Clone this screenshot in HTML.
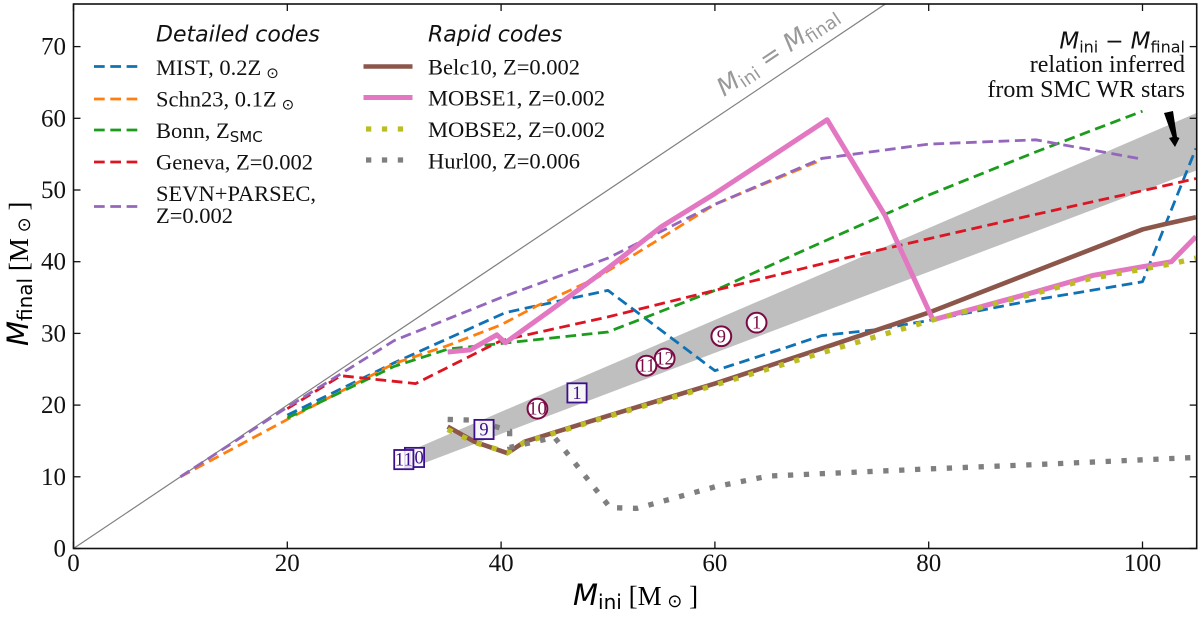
<!DOCTYPE html>
<html lang="en">
<head>
<meta charset="utf-8">
<title>Initial-final mass relation</title>
<style>
html,body{margin:0;padding:0;background:#fff;}
svg{display:block;font-family:"Liberation Serif",serif;}
.math{font-family:"DejaVu Sans",sans-serif;}
.tick{font-size:25px;fill:#111;}
.leg{font-size:22.5px;fill:#111;}
</style>
</head>
<body>
<svg id="chart" xmlns="http://www.w3.org/2000/svg" width="1200" height="617" viewBox="0 0 1200 617">
<defs><clipPath id="plot-clip"><rect x="73.5" y="4" width="1123.2" height="544.5"/></clipPath></defs>
<rect x="0" y="0" width="1200" height="617" fill="#fff"/>
<g id="marks" clip-path="url(#plot-clip)"></g>
<g id="points"></g>
<g id="axes"></g>

<text class="math" transform="translate(724,97) rotate(-33.9)" font-size="25" fill="#999"><tspan font-style="italic">M</tspan><tspan font-size="18" dy="4">ini</tspan><tspan dy="-4"> = </tspan><tspan font-style="italic">M</tspan><tspan font-size="18" dy="4">final</tspan></text>

<text x="573" y="605" font-size="27"><tspan class="math" font-style="italic" font-size="29">M</tspan><tspan class="math" font-size="20" dy="4">ini</tspan><tspan dy="-4"> [M</tspan><tspan class="math" font-size="18" dy="2"> ⊙</tspan><tspan dy="-2"> ]</tspan></text>
<text transform="translate(28,346) rotate(-90)" font-size="27"><tspan class="math" font-style="italic" font-size="29">M</tspan><tspan class="math" font-size="20" dy="4">final</tspan><tspan dy="-4"> [M</tspan><tspan class="math" font-size="18" dy="2"> ⊙</tspan><tspan dy="-2"> ]</tspan></text>

<g>
<text class="math" x="156" y="41.5" font-size="22" font-style="italic" fill="#111">Detailed codes</text>
<line x1="94" x2="137.3" y1="66.5" y2="66.5" stroke="#0f72b5" stroke-width="2.8" stroke-dasharray="10.7 5.6"/>
<text class="leg" x="156" y="75">MIST, 0.2Z<tspan class="math" font-size="15" dx="5" dy="3">⊙</tspan></text>
<line x1="94" x2="137.3" y1="99" y2="99" stroke="#ff7f0e" stroke-width="2.8" stroke-dasharray="10.7 5.6"/>
<text class="leg" x="156" y="106.5">Schn23, 0.1Z<tspan class="math" font-size="15" dx="5" dy="3">⊙</tspan></text>
<line x1="94" x2="137.3" y1="130" y2="130" stroke="#1c9c1c" stroke-width="2.8" stroke-dasharray="10.7 5.6"/>
<text class="leg" x="156" y="138">Bonn, Z<tspan class="math" font-size="15" dy="4">SMC</tspan></text>
<line x1="94" x2="137.3" y1="162" y2="162" stroke="#dd1522" stroke-width="2.8" stroke-dasharray="10.7 5.6"/>
<text class="leg" x="156" y="169.5">Geneva, Z=0.002</text>
<line x1="94" x2="137.3" y1="206.5" y2="206.5" stroke="#9467bd" stroke-width="2.8" stroke-dasharray="10.7 5.6"/>
<text class="leg" x="156" y="201">SEVN+PARSEC,</text>
<text class="leg" x="156" y="223">Z=0.002</text>
</g>

<g>
<text class="math" x="428" y="41.5" font-size="22" font-style="italic" fill="#111">Rapid codes</text>
<line x1="363.5" x2="412.5" y1="66.5" y2="66.5" stroke="#8c564b" stroke-width="4.6"/>
<text class="leg" x="428" y="74.5">Belc10, Z=0.002</text>
<line x1="363.5" x2="412.5" y1="97.5" y2="97.5" stroke="#e377c2" stroke-width="5"/>
<text class="leg" x="428" y="105.5">MOBSE1, Z=0.002</text>
<line x1="366" x2="404" y1="129" y2="129" stroke="#bcbd22" stroke-width="5.3" stroke-dasharray="5.3 10.6"/>
<text class="leg" x="428" y="137">MOBSE2, Z=0.002</text>
<line x1="366" x2="404" y1="160" y2="160" stroke="#7f7f7f" stroke-width="5.3" stroke-dasharray="5.3 10.6"/>
<text class="leg" x="428" y="168.5">Hurl00, Z=0.006</text>
</g>

<g text-anchor="end" fill="#111">
<text x="1185" y="48.5" font-size="22" class="math"><tspan font-style="italic" font-size="23">M</tspan><tspan font-size="16" dy="4">ini</tspan><tspan dy="-4"> − </tspan><tspan font-style="italic" font-size="23">M</tspan><tspan font-size="16" dy="4">final</tspan></text>
<text x="1185" y="72" font-size="24">relation inferred</text>
<text x="1185" y="97" font-size="24">from SMC WR stars</text>
</g>
<polygon points="1164,113 1173,111 1177,137 1179.5,138 1175,147 1169,138 1172.5,137" fill="#000"/>

<script>
// Axis tick labels
const xTickValues = [0, 20, 40, 60, 80, 100];
const yTickValues = [0, 10, 20, 30, 40, 50, 60, 70];

// Inferred SMC WR relation band
const bandIni = [31, 105];
const bandLower = [10.9, 52.7];
const bandUpper = [13.3, 60.7];

// Identity line
const identityIni = [0, 76];
const identityFinal = [0, 76];

// Detailed codes
const mistIni = [20, 30, 40.4, 50, 60, 66, 70, 75, 80, 90, 100, 105];
const mistFinal = [18.6, 25.9, 32.9, 36, 24.8, 27.7, 29.7, 30.5, 31.8, 34.7, 37.2, 55.8];
const schnIni = [10, 20, 30, 35, 40, 43.3, 49, 54, 60, 70];
const schnFinal = [10, 18, 25.8, 28.3, 31.2, 33.8, 37.8, 42.4, 48, 54.2];
const bonnIni = [20, 30, 35, 40, 50, 60, 70, 80, 90, 100];
const bonnFinal = [18.2, 25.4, 27.8, 28.6, 30.2, 36, 42.7, 49.3, 55.3, 61];
const genevaIni = [20, 25, 32, 40, 50, 60, 70, 75, 80, 90, 100, 105];
const genevaFinal = [19.5, 24.1, 23, 29, 32.3, 36, 39.7, 41.5, 43.2, 46.6, 49.9, 51.6];
const sevnIni = [10, 20, 30, 40, 50, 60, 70, 80, 90, 100];
const sevnFinal = [10, 19.7, 29, 35, 40.5, 48, 54.4, 56.4, 57, 54.3];

// Rapid codes
const belcIni = [35, 37.5, 40.6, 42.2, 50, 60, 70, 80, 90, 100, 102, 105];
const belcFinal = [17, 14.9, 13.3, 14.9, 18.5, 23, 27.9, 32.9, 38.7, 44.5, 45.2, 46.2];
const mobse1Ini = [35, 37.1, 39.6, 40.4, 44.6, 50, 55, 60, 70.5, 75.9, 80.4, 90, 95.4, 100, 102.7, 105];
const mobse1Final = [27.4, 27.7, 29.8, 28.7, 33.2, 39.1, 44.9, 49.5, 59.8, 46.5, 31.9, 35.8, 38.1, 39.3, 40, 43.5];
const mobse2Ini = [35, 37.5, 40.6, 42.2, 50, 60, 70, 80.4, 90, 95, 102.7, 105];
const mobse2Final = [16.6, 14.8, 13.4, 14.8, 18.4, 22.8, 27.3, 31.9, 35.6, 37.6, 39.7, 40.5];
const hurlIni = [35, 37.5, 40.8, 40.8, 45, 50.2, 52.7, 60, 65, 80, 90, 105];
const hurlFinal = [18, 17.9, 16.4, 14.1, 15.5, 5.7, 5.6, 8.6, 10.1, 11.1, 11.7, 12.7];

// SMC WR stars: circles
const circleLabels = ['1', '9', '12', '11', '10'];
const circleIni = [63.9, 60.6, 55.3, 53.6, 43.4];
const circleFinal = [31.5, 29.6, 26.5, 25.5, 19.5];

// SMC WR stars: squares
const squareLabels = ['1', '9', '10', '11'];
const squareIni = [47.1, 38.4, 31.9, 30.9];
const squareFinal = [21.7, 16.6, 12.7, 12.4];

const SVGNS = 'http://www.w3.org/2000/svg';
const xScale = v => 73.5 + v * 10.69;
const yScale = v => 548.5 - v * 7.17;
const pathOf = (xs, ys) => xs.map((v, i) => (i ? 'L' : 'M') + xScale(v).toFixed(2) + ' ' + yScale(ys[i]).toFixed(2)).join('');
const make = (tag, attrs, parent) => {
  const el = document.createElementNS(SVGNS, tag);
  for (const k in attrs) el.setAttribute(k, attrs[k]);
  parent.appendChild(el);
  return el;
};
const marks = document.getElementById('marks');
const points = document.getElementById('points');
const axes = document.getElementById('axes');

// Band
const bandPath = make('path', {
  d: pathOf(bandIni, bandLower) + 'L' + [1, 0].map(i => xScale(bandIni[i]).toFixed(2) + ' ' + yScale(bandUpper[i]).toFixed(2)).join('L') + 'Z',
  fill: '#bfbfbf', stroke: 'none'
}, marks);



// Identity line
const identityLine = make('path', {
  d: pathOf(identityIni, identityFinal), fill: 'none', stroke: '#808080', 'stroke-width': 1.2
}, marks);



function drawSeries(name, xs, ys, color, width, dash) {
  const line = make('path', {
    d: pathOf(xs, ys), fill: 'none', stroke: color, 'stroke-width': width,
    'stroke-dasharray': dash, 'stroke-linejoin': 'round'
  }, marks);
  
  
}
const DASHED = '10.7 5.6';
const DOTTED = '5.3 10.6';
drawSeries('series-mist', mistIni, mistFinal, '#0f72b5', 2.8, DASHED);
drawSeries('series-schn23', schnIni, schnFinal, '#ff7f0e', 2.8, DASHED);
drawSeries('series-bonn', bonnIni, bonnFinal, '#1c9c1c', 2.8, DASHED);
drawSeries('series-geneva', genevaIni, genevaFinal, '#dd1522', 2.8, DASHED);
drawSeries('series-sevn-parsec', sevnIni, sevnFinal, '#9467bd', 2.8, DASHED);
drawSeries('series-belc10', belcIni, belcFinal, '#8c564b', 4.6, 'none');
drawSeries('series-mobse1', mobse1Ini, mobse1Final, '#e377c2', 5, 'none');
drawSeries('series-mobse2', mobse2Ini, mobse2Final, '#bcbd22', 5.3, DOTTED);
drawSeries('series-hurl00', hurlIni, hurlFinal, '#7f7f7f', 5.3, DOTTED);

// Star markers
circleLabels.forEach((label, i) => {
  const cx = xScale(circleIni[i]), cy = yScale(circleFinal[i]);
  const c = make('circle', { cx: cx, cy: cy, r: 9.9, fill: '#fff', stroke: '#7a0a45', 'stroke-width': 2 }, points);
  
  
  const t = make('text', { x: cx, y: cy + 6, 'text-anchor': 'middle', 'font-size': 18.5, fill: '#7a0a45' }, points);
  
  
  t.textContent = label;
});
squareLabels.forEach((label, i) => {
  const cx = xScale(squareIni[i]), cy = yScale(squareFinal[i]);
  const r = make('rect', { x: cx - 9.6, y: cy - 9.6, width: 19.2, height: 19.2, fill: '#fff', 'fill-opacity': 0.85, stroke: '#3b0f8c', 'stroke-width': 1.8 }, points);
  
  
  const t = make('text', { x: cx, y: cy + 6, 'text-anchor': 'middle', 'font-size': 18.5, fill: '#3b0f8c' }, points);
  
  
  t.textContent = label;
});

// Spines
const frame = make('rect', { x: 73.5, y: 4, width: 1123.2, height: 544.5, fill: 'none', stroke: '#111', 'stroke-width': 1.6 }, axes);



// Ticks
xTickValues.forEach(v => {
  const x = xScale(v);
  const tb = make('line', { x1: x, x2: x, y1: 548.5, y2: 541.5, stroke: '#111', 'stroke-width': 1.3 }, axes);
  
  
  const tt = make('line', { x1: x, x2: x, y1: 4, y2: 11, stroke: '#111', 'stroke-width': 1.3 }, axes);
  
  
  const label = make('text', { x: x, y: 571, 'text-anchor': 'middle', class: 'tick' }, axes);
  
  
  label.textContent = v;
});
yTickValues.forEach(v => {
  const y = yScale(v);
  const tl = make('line', { x1: 73.5, x2: 80.5, y1: y, y2: y, stroke: '#111', 'stroke-width': 1.3 }, axes);
  
  
  const tr = make('line', { x1: 1196.7, x2: 1189.7, y1: y, y2: y, stroke: '#111', 'stroke-width': 1.3 }, axes);
  
  
  const label = make('text', { x: 66, y: y + 8, 'text-anchor': 'end', class: 'tick' }, axes);
  
  
  label.textContent = v;
});
</script>
</svg>
</body>
</html>
